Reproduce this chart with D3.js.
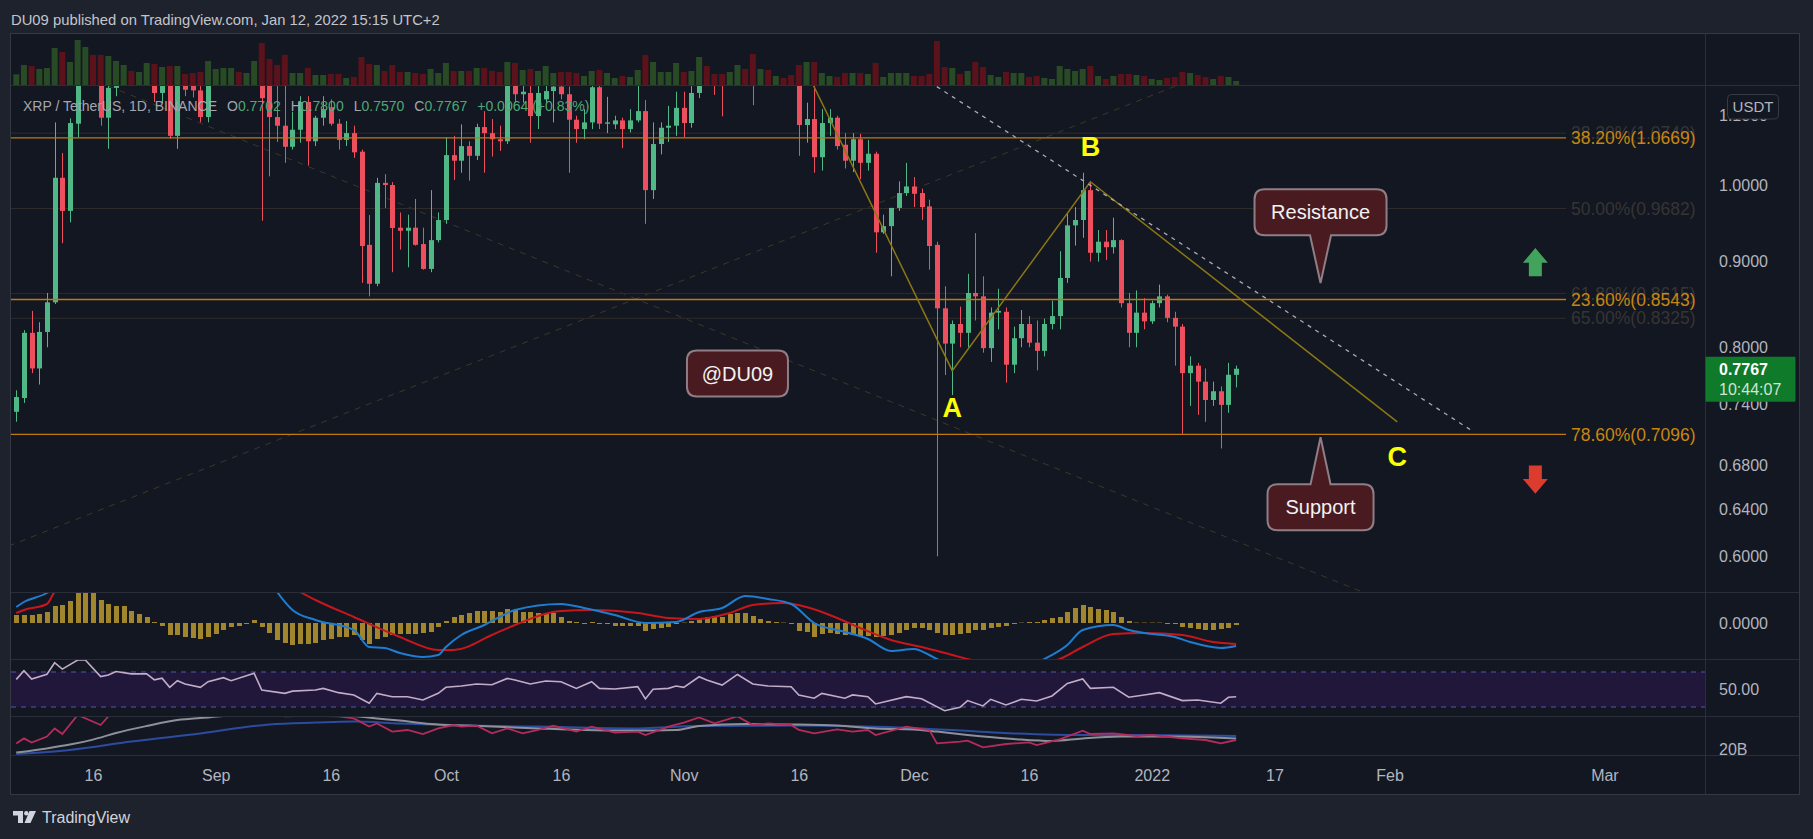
<!DOCTYPE html>
<html><head><meta charset="utf-8">
<script src="https://cdn.jsdelivr.net/npm/d3@7"></script>
<style>html,body{margin:0;padding:0;background:#1e222d;overflow:hidden}svg{display:block}</style>
</head><body>
<svg id="c" width="1813" height="839"></svg>
<script>
// ---------------- DATA ----------------
const firstDay = "2021-08-06", lastDay = "2022-01-12";
const open = [.732,.746,.816,.777,.817,.851,1.010,.965,1.088,1.22,1.25,1.20,1.097,1.143,1.17,1.26,1.24,1.27,1.30,1.135,1.17,1.070,1.18,1.15,1.139,1.098,
 1.18,1.26,1.27,1.29,1.28,1.33,1.37,1.15,1.098,1.085,1.054,1.079,1.121,1.062,1.097,1.113,1.088,1.064,1.074,1.047,.921,.873,1.003,1.0,.943,.939,.943,.922,.891,.927,
 .953,1.042,1.034,1.055,1.041,1.083,1.074,1.065,1.062,1.16,1.133,1.135,1.0995,1.125,1.138,1.145,1.133,1.094,1.08,1.09,1.144,1.088,1.087,1.093,1.08,1.093,1.107,.993,1.058,1.082,1.085,
 1.112,1.089,1.135,1.21,1.19,1.18,1.17,1.21,1.26,1.25,1.19,1.21,1.18,1.20,1.19,1.185,1.086,1.095,1.039,1.089,1.097,1.057,1.034,1.065,1.031,1.044,.937,.945,.969,.989,
 .998,.989,.971,.921,.844,.804,.826,.816,.862,.858,.799,.839,.84,.781,.81,.826,.805,.796,.826,.835,.88,.946,.953,.993,.911,.925,.918,.927,.85,.816,.839,
 .829,.85,.858,.833,.823,.772,.78,.763,.744,.753,.739,.7702];
const high = [.754,.819,.841,.828,.862,1.090,1.045,1.096,1.27,1.29,1.27,1.22,1.17,1.19,1.28,1.28,1.28,1.33,1.31,1.18,1.18,1.19,1.20,1.17,1.15,1.20,
 1.27,1.29,1.31,1.30,1.35,1.41,1.41,1.16,1.15,1.15,1.106,1.13,1.13,1.10,1.13,1.125,1.095,1.092,1.085,1.05,.9596,1.01,1.015,1.004,.963,.96,.981,.943,.993,.963,
 1.068,1.07,1.087,1.062,1.088,1.107,1.095,1.085,1.18,1.19,1.16,1.15,1.15,1.16,1.17,1.16,1.145,1.10,1.11,1.16,1.17,1.129,1.10,1.097,1.11,1.146,1.124,1.09,1.09,1.115,1.137,
 1.137,1.146,1.22,1.23,1.22,1.20,1.22,1.28,1.28,1.35,1.23,1.24,1.21,1.22,1.23,1.19,1.12,1.146,1.11,1.11,1.10,1.074,1.074,1.073,1.064,1.047,.96,.969,1.005,1.031,
 1.011,.995,.98,.925,.87,.83,.846,.885,.936,.882,.845,.867,.845,.823,.842,.835,.83,.832,.853,.913,.962,.97,1.017,1.005,.94,.94,.956,.928,.862,.865,.856,
 .853,.872,.86,.84,.826,.79,.783,.777,.763,.758,.783,.78];
const low = [.722,.741,.772,.760,.800,.849,.923,.950,1.068,1.18,1.15,1.085,1.051,1.13,1.16,1.22,1.21,1.25,1.121,1.12,1.066,1.051,1.13,1.128,1.090,1.09,
 1.17,1.24,1.25,1.26,1.27,1.31,.952,1.012,1.061,1.031,1.05,1.06,1.027,1.055,1.085,1.085,1.05,1.055,1.038,.874,.858,.87,.969,.887,.915,.893,.92,.890,.887,.924,
 .948,1.007,1.017,1.006,1.035,1.017,1.04,1.048,1.058,1.12,1.12,1.06,1.08,1.12,1.09,1.125,1.017,1.06,1.065,1.08,1.08,1.074,1.08,1.052,1.075,1.09,.948,.981,1.043,1.061,1.07,
 1.068,1.082,1.127,1.16,1.132,1.099,1.16,1.19,1.22,1.116,1.17,1.16,1.16,1.17,1.17,1.041,1.06,1.017,1.02,1.07,1.05,1.023,1.018,1.008,1.02,.911,.935,.882,.965,.985,
 .97,.953,.89,.600,.770,.749,.80,.80,.83,.794,.784,.82,.762,.772,.80,.80,.775,.79,.82,.82,.874,.92,.93,.90,.90,.902,.91,.845,.80,.80,.82,
 .826,.845,.828,.78,.71,.738,.729,.722,.738,.696,.731,.757];
const close = [.747,.816,.777,.817,.851,1.010,.965,1.089,1.22,1.25,1.20,1.097,1.143,1.17,1.26,1.24,1.27,1.30,1.135,1.17,1.070,1.18,1.14,1.139,1.098,1.18,
 1.26,1.27,1.29,1.28,1.33,1.37,1.127,1.098,1.085,1.054,1.079,1.121,1.062,1.097,1.11,1.088,1.064,1.074,1.046,.9195,.873,1.003,1.0,.9426,.939,.943,.921,.891,.927,.953,
 1.042,1.034,1.055,1.041,1.083,1.074,1.065,1.062,1.16,1.133,1.137,1.0995,1.135,1.138,1.145,1.133,1.094,1.08,1.09,1.144,1.088,1.09,1.093,1.08,1.093,1.107,.993,1.058,1.082,1.085,1.112,
 1.089,1.135,1.19,1.19,1.18,1.17,1.21,1.26,1.25,1.19,1.21,1.18,1.20,1.19,1.185,1.086,1.095,1.039,1.089,1.097,1.055,1.034,1.065,1.031,1.044,.937,.945,.969,.989,.998,
 .988,.970,.9195,.844,.804,.826,.816,.862,.858,.799,.839,.841,.781,.81,.826,.805,.796,.826,.835,.880,.946,.953,.993,.911,.925,.918,.927,.850,.816,.839,.829,
 .850,.858,.833,.823,.772,.78,.763,.744,.753,.739,.7703,.7767];
const volume = [430,800,760,640,680,1480,1320,920,1800,1520,1200,1200,1160,960,800,560,520,880,840,720,760,760,440,480,520,960,
 640,680,680,520,480,960,1680,1040,800,1200,480,480,680,400,400,440,440,280,320,1120,840,800,560,800,520,520,480,440,640,480,
 880,560,560,560,680,680,560,520,920,880,600,640,560,760,480,520,520,480,360,560,600,480,280,360,320,600,1200,920,520,520,880,
 520,560,1120,760,440,440,520,800,640,1240,640,600,360,280,400,800,920,920,480,360,320,480,480,480,440,880,320,480,480,480,
 360,360,440,1760,720,680,440,560,920,720,400,320,520,480,480,320,360,280,240,760,640,560,640,760,360,240,360,440,440,400,360,
 240,200,280,320,520,480,400,320,240,360,320,160];
const macdHist = [.008,.008,.008,.009,.011,.017,.018,.022,.033,.036,.032,.023,.019,.017,.017,.012,.009,.006,.001,-.003,-.012,-.012,-.014,-.015,-.016,-.014,
 -.011,-.007,-.004,-.003,-.001,.003,-.004,-.010,-.017,-.020,-.022,-.021,-.021,-.020,-.017,-.016,-.014,-.014,-.012,-.017,-.021,-.016,-.014,-.012,-.011,-.011,-.011,-.010,-.009,-.004,
 .002,.006,.008,.010,.012,.012,.012,.011,.014,.013,.011,.011,.010,.010,.010,.006,.002,.001,-.001,.001,-.001,-.001,-.003,-.003,-.003,-.003,-.008,-.006,-.005,-.004,-.001,
 .0004,.002,.005,.006,.007,.006,.009,.010,.010,.007,.004,.002,.001,.0004,-.001,-.008,-.009,-.014,-.011,-.010,-.011,-.012,-.012,-.013,-.013,-.014,-.013,-.012,-.010,-.007,
 -.005,-.005,-.007,-.010,-.012,-.012,-.011,-.010,-.007,-.007,-.005,-.004,-.003,-.001,.0004,.001,.001,.003,.005,.006,.011,.015,.018,.016,.014,.013,.011,.006,.002,.0004,.0004,
 .0004,.0004,-.001,-.001,-.004,-.005,-.006,-.007,-.007,-.006,-.005,-.002];
const macdLine = [["2021-08-06",.016],["2021-08-07",.021],["2021-08-10",.030],["2021-08-14",.055],["2021-08-20",.080],["2021-08-27",.070],["2021-09-03",.062],["2021-09-07",.055],["2021-09-09",.031],["2021-09-11",.013],["2021-09-14",.003],["2021-09-19",-.007],["2021-09-21",-.024],["2021-09-23",-.025],["2021-09-25",-.030],["2021-09-28",-.034],["2021-09-30",-.032],["2021-10-01",-.024],["2021-10-03",-.012],["2021-10-06",-.002],["2021-10-08",.006],["2021-10-10",.013],["2021-10-16",.019],["2021-10-19",.015],["2021-10-23",.008],["2021-10-27",.000],["2021-10-31",.001],["2021-11-03",.011],["2021-11-06",.015],["2021-11-09",.027],["2021-11-12",.024],["2021-11-15",.019],["2021-11-18",.000],["2021-11-22",-.009],["2021-11-25",-.016],["2021-11-28",-.028],["2021-12-01",-.026],["2021-12-03",-.032],["2021-12-04",-.036],["2021-12-08",-.050],["2021-12-14",-.048],["2021-12-18",-.036],["2021-12-21",-.022],["2021-12-23",-.007],["2021-12-27",-.002],["2021-12-29",-.007],["2021-12-31",-.010],["2022-01-04",-.014],["2022-01-06",-.019],["2022-01-10",-.025],["2022-01-12",-.023]];
const macdSignal = [["2021-08-06",.010],["2021-08-07",.013],["2021-08-10",.019],["2021-08-11",.031],["2021-08-20",.065],["2021-09-01",.072],["2021-09-08",.055],["2021-09-12",.031],["2021-09-14",.023],["2021-09-19",.006],["2021-09-25",-.014],["2021-09-30",-.027],["2021-10-02",-.027],["2021-10-07",-.012],["2021-10-10",-.002],["2021-10-16",.012],["2021-10-20",.013],["2021-10-26",.010],["2021-10-30",.005],["2021-11-03",.004],["2021-11-07",.010],["2021-11-10",.018],["2021-11-14",.020],["2021-11-17",.016],["2021-11-21",.005],["2021-11-24",-.005],["2021-11-28",-.017],["2021-12-02",-.024],["2021-12-06",-.032],["2021-12-08",-.036],["2021-12-14",-.045],["2021-12-20",-.036],["2021-12-23",-.024],["2021-12-27",-.011],["2021-12-31",-.010],["2022-01-05",-.012],["2022-01-09",-.019],["2022-01-12",-.021]];
const rsi = [["2021-08-06",61.6],["2021-08-07",71.5],["2021-08-08",61.9],["2021-08-10",67.4],["2021-08-11",80.6],["2021-08-12",73.3],["2021-08-14",83.7],["2021-08-15",83.7],["2021-08-17",64.7],["2021-08-18",66.6],["2021-08-19",70.6],["2021-08-21",67.9],["2021-08-23",68],["2021-08-24",61],["2021-08-25",62.9],["2021-08-26",52.5],["2021-08-27",60.1],["2021-08-28",56.3],["2021-08-30",52.5],["2021-08-31",58.9],["2021-09-02",63.5],["2021-09-03",60.1],["2021-09-06",68.5],["2021-09-07",49.4],["2021-09-10",45.6],["2021-09-11",48.1],["2021-09-14",49.4],["2021-09-15",51.3],["2021-09-17",46.4],["2021-09-19",43.8],["2021-09-21",34.3],["2021-09-22",45.6],["2021-09-24",41.8],["2021-09-26",41.8],["2021-09-28",38],["2021-09-30",45.6],["2021-10-01",52.5],["2021-10-03",54],["2021-10-05",56.3],["2021-10-07",55.5],["2021-10-09",62.7],["2021-10-10",60.8],["2021-10-12",56.3],["2021-10-14",59.7],["2021-10-16",58.9],["2021-10-18",51.3],["2021-10-20",58.9],["2021-10-21",51.3],["2021-10-23",50.6],["2021-10-26",53.2],["2021-10-27",39.2],["2021-10-28",50.2],["2021-10-30",51.3],["2021-10-31",54],["2021-11-01",52.5],["2021-11-03",64.6],["2021-11-04",60.8],["2021-11-06",55.1],["2021-11-08",67.2],["2021-11-10",56.3],["2021-11-12",54],["2021-11-15",53.2],["2021-11-16",43.8],["2021-11-18",40],["2021-11-19",45.6],["2021-11-22",40],["2021-11-23",43.8],["2021-11-25",41.8],["2021-11-26",33.5],["2021-11-30",41.8],["2021-12-02",39.5],["2021-12-05",25.8],["2021-12-07",29.6],["2021-12-08",37.3],["2021-12-10",31.2],["2021-12-11",38.8],["2021-12-13",32.3],["2021-12-15",38.8],["2021-12-17",36.9],["2021-12-19",42.6],["2021-12-21",57],["2021-12-23",62],["2021-12-24",51.3],["2021-12-27",52.5],["2021-12-29",41.1],["2021-12-31",43.8],["2022-01-02",46.4],["2022-01-05",37.3],["2022-01-07",38],["2022-01-10",34.3],["2022-01-11",41.1],["2022-01-12",41.8]];
const obvPink = [["2021-08-06",22.8],["2021-08-07",25.3],["2021-08-08",23.2],["2021-08-10",26.2],["2021-08-11",30.3],["2021-08-12",27.5],["2021-08-14",37],["2021-08-17",32],["2021-08-18",36.3],["2021-08-23",41],["2021-08-31",44],["2021-09-06",45],["2021-09-08",38],["2021-09-10",36.3],["2021-09-13",36.6],["2021-09-17",36.3],["2021-09-19",35.3],["2021-09-21",31.2],["2021-09-22",32.8],["2021-09-24",28.7],["2021-09-26",29.5],["2021-09-28",27.5],["2021-09-30",30.3],["2021-10-02",32],["2021-10-03",31.2],["2021-10-05",31.7],["2021-10-07",27.8],["2021-10-09",30.3],["2021-10-11",27.8],["2021-10-13",29.5],["2021-10-15",31.7],["2021-10-18",28.7],["2021-10-20",31.2],["2021-10-23",28.2],["2021-10-26",28.7],["2021-10-27",27],["2021-10-30",31.2],["2021-11-01",33.2],["2021-11-03",35.8],["2021-11-05",32.8],["2021-11-08",36.3],["2021-11-10",32],["2021-11-12",32.8],["2021-11-15",32],["2021-11-16",29.5],["2021-11-18",27.8],["2021-11-21",29.8],["2021-11-23",28.7],["2021-11-25",29.5],["2021-11-26",27],["2021-11-30",31.2],["2021-12-03",29.5],["2021-12-04",22.8],["2021-12-07",23.7],["2021-12-08",24.2],["2021-12-10",20.8],["2021-12-13",22.5],["2021-12-16",23.3],["2021-12-17",22],["2021-12-20",24.8],["2021-12-23",29.2],["2021-12-24",27.5],["2021-12-27",27.8],["2021-12-30",26.5],["2022-01-01",27],["2022-01-05",25.3],["2022-01-08",24.5],["2022-01-10",22.8],["2022-01-12",24.5]];
const obvGrey = [["2021-08-06",18.2],["2021-08-10",20.3],["2021-08-13",22.2],["2021-08-16",24.7],["2021-08-19",28],["2021-08-23",31.5],["2021-08-27",34.5],["2021-08-31",35.8],["2021-09-02",36.5],["2021-09-10",38],["2021-09-16",37.5],["2021-09-19",36.5],["2021-09-22",35.3],["2021-09-25",34.2],["2021-09-29",32.5],["2021-10-04",31.7],["2021-10-13",30.3],["2021-10-19",29.5],["2021-10-25",29.2],["2021-10-31",29.5],["2021-11-03",31.5],["2021-11-09",32.5],["2021-11-15",32.3],["2021-11-21",31.7],["2021-11-26",30.3],["2021-12-01",29.8],["2021-12-04",28.7],["2021-12-08",27],["2021-12-14",25],["2021-12-19",24],["2021-12-23",25.3],["2021-12-28",26.2],["2022-01-03",26.2],["2022-01-09",25.8],["2022-01-12",25.3]];
const obvBlue = [["2021-08-06",17.5],["2021-08-13",19.5],["2021-08-21",23.7],["2021-08-30",27.8],["2021-09-08",32.3],["2021-09-14",33.2],["2021-09-19",33.7],["2021-09-25",32.8],["2021-10-01",32],["2021-10-13",31.2],["2021-10-25",30.3],["2021-11-03",31.5],["2021-11-15",31.7],["2021-12-02",30.3],["2021-12-14",27.8],["2021-12-23",27],["2021-12-31",27],["2022-01-12",26.5]];

const priceTicks = [1.1, 1.0, 0.9, 0.8, 0.74, 0.68, 0.64, 0.60];
const timeTicks = ["2021-08-16","2021-09-01","2021-09-16","2021-10-01","2021-10-16","2021-11-01","2021-11-16","2021-12-01","2021-12-16","2022-01-01","2022-01-17","2022-02-01","2022-03-01"];
const timeLabels = ["16","Sep","16","Oct","16","Nov","16","Dec","16","2022","17","Feb","Mar"];
const fibPct = ["38.20%","23.60%","78.60%"];
const fibPrice = [1.0669, 0.8543, 0.7096];
const fadedPct = ["38.20%","50.00%","61.80%","65.00%"];
const fadedPrice = [1.0740, 0.9682, 0.8615, 0.8325];
const abcPath = [["2021-11-16",1.195],["2021-12-06",0.7746],["2021-12-24",1.0045],["2022-02-02",0.722]];
const abcLetters = ["A","B","C"];
const abcLetterDate = ["2021-12-06","2021-12-24","2022-02-02"];
const abcLetterPrice = [0.7368, 1.0551, 0.6888];
const trendDashed = [["2021-12-03",1.1526],["2022-02-12",0.7119]];
const faintLineA = [["2021-08-05",0.6086],["2022-01-05",1.150]];
const faintLineB = [["2021-08-18",1.146],["2022-01-29",0.570]];
const calloutText = ["Resistance","Support","@DU09"];
const calloutDate = ["2022-01-23","2022-01-23","2021-11-08"];
const calloutPrice = [0.874, 0.7068, 0.7715];
const arrowDate = ["2022-02-20","2022-02-20"];
const arrowPrice = [0.917, 0.654];
const headerText = "DU09 published on TradingView.com, Jan 12, 2022 15:15 UTC+2";
const symbolText = "XRP / TetherUS, 1D, BINANCE";
const countdown = "10:44:07";

// ---------------- SETUP ----------------
const parse = d3.utcParse("%Y-%m-%d");
const days = d3.utcDay.range(parse(firstDay), d3.utcDay.offset(parse(lastDay), 1));
const FONT = "'Liberation Sans', Arial, sans-serif";
const svg = d3.select("#c");
const L = 11, R = 1705.5, FR = 1799, TOP = 34, BOT = 794;
const PANE = {vol:[TOP,85], main:[85,592], macd:[592,659], rsi:[659,716], obv:[716,755]};

const x = d3.scaleUtc().domain([parse("2021-08-16"), parse("2021-12-16")]).range([93, 1029]);
const yP = d3.scaleLog().domain([0.5713, 1.1475]).range([592, 85]);
const yV = d3.scaleLinear().domain([0, 2000]).range([85, 35]);
const yM = d3.scaleLinear().domain([-0.036, 0.031]).range([659, 592]);
const yR = d3.scaleLinear().domain([30, 70]).range([707, 672]);
const yO = d3.scaleLinear().domain([17, 36.5]).range([755, 716]);

svg.append("rect").attr("width",1813).attr("height",839).attr("fill","#1e222d");
svg.append("rect").attr("x",L-0.5).attr("y",TOP-0.5).attr("width",FR-L+1).attr("height",BOT-TOP+1)
  .attr("fill","#131722").attr("stroke","#343843");

const defs = svg.append("defs");
function clip(id, y0, y1){
  defs.append("clipPath").attr("id",id).append("rect").attr("x",L).attr("y",y0).attr("width",R-L).attr("height",y1-y0);
  return `url(#${id})`;
}
const cVol = clip("cv", ...PANE.vol), cMain = clip("cm", ...PANE.main), cMacd = clip("cd", ...PANE.macd),
      cRsi = clip("cr", ...PANE.rsi), cObv = clip("co", ...PANE.obv);

const bars = days.map((d,i)=>({d, o:open[i], h:high[i], l:low[i], c:close[i], v:volume[i], m:macdHist[i]}));
const UP = "#50b787", DN = "#ee4f5f";

// ---------------- VOLUME ----------------
svg.append("g").attr("clip-path", cVol).selectAll("rect").data(bars).join("rect")
  .attr("x", b => x(b.d) - 3).attr("width", 6)
  .attr("y", b => yV(b.v)).attr("height", b => yV(0) - yV(b.v))
  .attr("fill", b => b.c >= b.o ? "#284a25" : "#5c121b");

// ---------------- MAIN ----------------
const gMain = svg.append("g").attr("clip-path", cMain);
const lineP = d3.line().x(d => x(parse(d[0]))).y(d => yP(d[1]));
gMain.append("path").attr("d", lineP(faintLineA)).attr("fill","none").attr("stroke","#3f3727").attr("stroke-width",1).attr("stroke-dasharray","6,6");
gMain.append("path").attr("d", lineP(faintLineB)).attr("fill","none").attr("stroke","#3f3727").attr("stroke-width",1).attr("stroke-dasharray","6,6");

fadedPrice.forEach((p,i) => {
  gMain.append("line").attr("x1",L).attr("x2",1566).attr("y1",yP(p)).attr("y2",yP(p)).attr("stroke","#2e2c2a").attr("stroke-width",1);
});

const gc = gMain.append("g");
gc.selectAll("line").data(bars).join("line")
  .attr("x1", b => Math.round(x(b.d)) + 0.5).attr("x2", b => Math.round(x(b.d)) + 0.5)
  .attr("y1", b => yP(b.h)).attr("y2", b => yP(b.l))
  .attr("stroke", b => b.c >= b.o ? UP : DN).attr("stroke-width", 1);
gc.selectAll("rect").data(bars).join("rect")
  .attr("x", b => Math.round(x(b.d)) - 2).attr("width", 5)
  .attr("y", b => Math.min(yP(b.o), yP(b.c)))
  .attr("height", b => Math.max(1, Math.abs(yP(b.o) - yP(b.c))))
  .attr("fill", b => b.c >= b.o ? UP : DN);

fibPrice.forEach((p,i) => {
  gMain.append("line").attr("x1",L).attr("x2",1566).attr("y1",yP(p)).attr("y2",yP(p)).attr("stroke","#c07a10").attr("stroke-width",1.3);
});

gMain.append("path").attr("d", lineP(abcPath)).attr("fill","none").attr("stroke","#8a7714").attr("stroke-width",1.5);
gMain.append("path").attr("d", lineP(trendDashed)).attr("fill","none").attr("stroke","#a9acb4").attr("stroke-width",1.3).attr("stroke-dasharray","4,5");

fadedPrice.forEach((p,i) => {
  svg.append("text").attr("x",1571).attr("y",yP(p)).attr("dy","0.35em").attr("font-family",FONT).attr("font-size",17.5)
    .attr("fill","#363533").text(`${fadedPct[i]}(${p.toFixed(4)})`);
});
fibPrice.forEach((p,i) => {
  svg.append("text").attr("x",1571).attr("y",yP(p)).attr("dy","0.35em").attr("font-family",FONT).attr("font-size",17.5)
    .attr("fill","#c8860f").text(`${fibPct[i]}(${p.toFixed(4)})`);
});

abcLetters.forEach((t,i) => {
  svg.append("text").attr("x", x(parse(abcLetterDate[i]))).attr("y", yP(abcLetterPrice[i])).attr("dy","0.36em")
    .attr("text-anchor","middle").attr("font-family",FONT).attr("font-weight","bold").attr("font-size",27)
    .attr("fill","#ffff00").text(t);
});

function bubblePath(x0,y0,w,h,r,ptr){
  const x1=x0+w, y1=y0+h;
  let p = `M${x0+r},${y0}`;
  if (ptr && ptr.side==="top") p += `L${ptr.cx-ptr.half},${y0}L${ptr.cx},${ptr.tip}L${ptr.cx+ptr.half},${y0}`;
  p += `L${x1-r},${y0}Q${x1},${y0} ${x1},${y0+r}L${x1},${y1-r}Q${x1},${y1} ${x1-r},${y1}`;
  if (ptr && ptr.side==="bottom") p += `L${ptr.cx+ptr.half},${y1}L${ptr.cx},${ptr.tip}L${ptr.cx-ptr.half},${y1}`;
  p += `L${x0+r},${y1}Q${x0},${y1} ${x0},${y1-r}L${x0},${y0+r}Q${x0},${y0} ${x0+r},${y0}Z`;
  return p;
}
const bubbleLayout = [
  {w:132, h:46, side:"bottom", gap:47.7},
  {w:106, h:46, side:"top", gap:47},
  {w:101, h:46, side:null, gap:0}
];
calloutText.forEach((t,i) => {
  const ax = x(parse(calloutDate[i])), ay = yP(calloutPrice[i]);
  const lay = bubbleLayout[i];
  let x0 = ax - lay.w/2, y0, ptr = null;
  if (lay.side === "bottom") { y0 = ay - lay.gap - lay.h; ptr = {side:"bottom", cx:ax, half:10.5, tip:ay}; }
  else if (lay.side === "top") { y0 = ay + lay.gap; ptr = {side:"top", cx:ax, half:10, tip:ay}; }
  else { y0 = ay - lay.h/2; }
  svg.append("path").attr("d", bubblePath(x0,y0,lay.w,lay.h,10,ptr)).attr("fill","#4a1a21").attr("stroke","#8f7e86").attr("stroke-width",2);
  svg.append("text").attr("x", x0 + lay.w/2).attr("y", y0 + lay.h/2).attr("dy","0.35em").attr("text-anchor","middle")
    .attr("font-family",FONT).attr("font-size",20).attr("fill","#f2f2f2").text(t);
});

function arrowPath(tx, ty, dir){
  const s = -dir;
  const hh = 14.8, hw = 12.5, sw = 6.5, sl = 13.4;
  return `M${tx},${ty}L${tx+hw},${ty+s*hh}L${tx+sw},${ty+s*hh}L${tx+sw},${ty+s*(hh+sl)}L${tx-sw},${ty+s*(hh+sl)}L${tx-sw},${ty+s*hh}L${tx-hw},${ty+s*hh}Z`;
}
svg.append("path").attr("d", arrowPath(x(parse(arrowDate[0])), yP(arrowPrice[0]), -1)).attr("fill","#43a35d");
svg.append("path").attr("d", arrowPath(x(parse(arrowDate[1])), yP(arrowPrice[1]), 1)).attr("fill","#dc3c2d");

// ---------------- MACD ----------------
const gM = svg.append("g").attr("clip-path", cMacd);
gM.selectAll("rect").data(bars).join("rect")
  .attr("x", b => Math.round(x(b.d)) - 2).attr("width", 5)
  .attr("y", b => Math.min(yM(b.m), yM(0))).attr("height", b => Math.abs(yM(b.m) - yM(0)))
  .attr("fill", "#a1862e");
const lineM = d3.line().x(d => x(parse(d[0]))).y(d => yM(d[1])).curve(d3.curveMonotoneX);
gM.append("path").attr("d", lineM(macdSignal)).attr("fill","none").attr("stroke","#c8161d").attr("stroke-width",2);
gM.append("path").attr("d", lineM(macdLine)).attr("fill","none").attr("stroke","#1f7dd1").attr("stroke-width",2);

// ---------------- RSI ----------------
const gR = svg.append("g").attr("clip-path", cRsi);
gR.append("rect").attr("x",L).attr("width",R-L).attr("y",yR(70)).attr("height",yR(30)-yR(70)).attr("fill","#21173a");
[70,30].forEach(v => gR.append("line").attr("x1",L).attr("x2",R).attr("y1",yR(v)).attr("y2",yR(v))
  .attr("stroke","#4a5ba8").attr("stroke-width",1).attr("stroke-dasharray","5,5"));
const lineR = d3.line().x(d => x(parse(d[0]))).y(d => yR(d[1]));
gR.append("path").attr("d", lineR(rsi)).attr("fill","none").attr("stroke","#c2adc9").attr("stroke-width",1.6);

// ---------------- OBV-like pane ----------------
const gO = svg.append("g").attr("clip-path", cObv);
const lineO = d3.line().x(d => x(parse(d[0]))).y(d => yO(d[1])).curve(d3.curveMonotoneX);
const lineOs = d3.line().x(d => x(parse(d[0]))).y(d => yO(d[1]));
gO.append("path").attr("d", lineO(obvBlue)).attr("fill","none").attr("stroke","#2b4c9f").attr("stroke-width",2);
gO.append("path").attr("d", lineO(obvGrey)).attr("fill","none").attr("stroke","#8d9098").attr("stroke-width",2);
gO.append("path").attr("d", lineOs(obvPink)).attr("fill","none").attr("stroke","#b72b5c").attr("stroke-width",1.8);

// ---------------- separators ----------------
[85,592,659,716,755].forEach(y => svg.append("line").attr("x1",L).attr("x2",FR).attr("y1",y+0.5).attr("y2",y+0.5).attr("stroke","#2a2e39"));
svg.append("line").attr("x1",R).attr("x2",R).attr("y1",TOP).attr("y2",BOT).attr("stroke","#2a2e39");

// ---------------- axes ----------------
function styleAxis(g){ g.select(".domain").remove(); g.selectAll("text").attr("font-family",FONT).attr("font-size",16).attr("fill","#b2b5be"); }
svg.append("g").attr("transform",`translate(0,755)`)
  .call(d3.axisBottom(x).tickValues(timeTicks.map(parse)).tickFormat((d,i)=>timeLabels[i]).tickSize(0).tickPadding(15))
  .call(styleAxis);
svg.append("g").attr("transform",`translate(${R},0)`)
  .call(d3.axisRight(yP).tickValues(priceTicks).tickFormat(d3.format(".4f")).tickSize(0).tickPadding(13.5)).call(styleAxis);
svg.append("g").attr("transform",`translate(${R},0)`)
  .call(d3.axisRight(yM).tickValues([0]).tickFormat(d3.format(".4f")).tickSize(0).tickPadding(13.5)).call(styleAxis);
svg.append("g").attr("transform",`translate(${R},0)`)
  .call(d3.axisRight(yR).tickValues([50]).tickFormat(d3.format(".2f")).tickSize(0).tickPadding(13.5)).call(styleAxis);
svg.append("g").attr("transform",`translate(${R},0)`)
  .call(d3.axisRight(yO).tickValues([20]).tickFormat(d => d + "B").tickSize(0).tickPadding(13.5)).call(styleAxis);

svg.append("rect").attr("x",1727.5).attr("y",94.5).attr("width",51).attr("height",24.5).attr("rx",4)
  .attr("fill","#131722").attr("stroke","#363a45");
svg.append("text").attr("x",1753).attr("y",106.7).attr("dy","0.35em").attr("text-anchor","middle")
  .attr("font-family",FONT).attr("font-size",15).attr("fill","#b2b5be").text("USDT");

const lastC = close[close.length-1], prevC = close[close.length-2];
const ly = yP(lastC);
svg.append("rect").attr("x",R).attr("y",ly-12).attr("width",90).attr("height",45).attr("rx",1).attr("fill","#0f7a2a");
svg.append("text").attr("x",1719).attr("y",ly+1).attr("dy","0.35em").attr("font-family",FONT).attr("font-size",16).attr("font-weight","bold")
  .attr("fill","#ffffff").text(lastC.toFixed(4));
svg.append("text").attr("x",1719).attr("y",ly+21).attr("dy","0.35em").attr("font-family",FONT).attr("font-size",16)
  .attr("fill","#d3e3d6").text(countdown);

// ---------------- texts ----------------
svg.append("text").attr("x",11).attr("y",25).attr("font-family",FONT).attr("font-size",14.8).attr("fill","#c3c5cb").text(headerText);

const GREEN = "#4fa877", GREY = "#a3a6ae";
const lo = open[open.length-1], lh = high[high.length-1], ll = low[low.length-1];
const chg = lastC - prevC;
const leg = svg.append("text").attr("x",23).attr("y",111).attr("font-family",FONT).attr("font-size",14).attr("fill",GREY);
leg.append("tspan").text(symbolText);
[["O",lo],["H",lh],["L",ll],["C",lastC]].forEach(([k,v]) => {
  leg.append("tspan").attr("dx",10).attr("fill",GREY).text(k);
  leg.append("tspan").attr("fill",GREEN).text(v.toFixed(4));
});
leg.append("tspan").attr("dx",10).attr("fill",GREEN).text(`+${chg.toFixed(4)} (+${(chg/prevC*100).toFixed(2)}%)`);

const lg = svg.append("g").attr("fill","#d1d4dc");
lg.append("path").attr("d","M13,811H23V823H18V815.5H13Z");
lg.append("circle").attr("cx",26.3).attr("cy",813.2).attr("r",2.2);
lg.append("path").attr("d","M29.5,811H36L30.5,823H24.5Z");
svg.append("text").attr("x",42).attr("y",822.5).attr("font-family",FONT).attr("font-size",16).attr("fill","#d1d4dc").text("TradingView");
</script>
</body></html>
